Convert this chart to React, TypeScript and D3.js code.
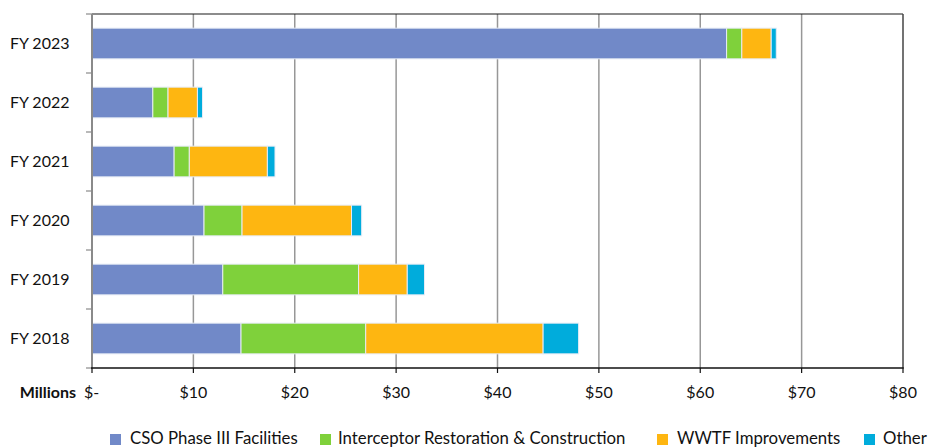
import * as d3 from 'd3'

const categories = ['FY 2023', 'FY 2022', 'FY 2021', 'FY 2020', 'FY 2019', 'FY 2018']
const seriesNames = ['CSO Phase III Facilities', 'Interceptor Restoration & Construction', 'WWTF Improvements', 'Other']
const cso = [62.6, 6.0, 8.1, 11.05, 12.9, 14.7]
const interceptor = [1.5, 1.5, 1.5, 3.75, 13.4, 12.3]
const wwtf = [2.9, 2.9, 7.7, 10.8, 4.8, 17.5]
const other = [0.5, 0.5, 0.75, 1.0, 1.7, 3.5]
const xTicks = [0, 10, 20, 30, 40, 50, 60, 70, 80]
const COLORS = ['#7189c8', '#7fd13b', '#feb611', '#00acdc']

const W = 930, H = 448
const M = { left: 92, right: 27, top: 14, bottom: 80 }
const FONT = 'Lato, "Open Sans", sans-serif'

export default function App() {
  const x = d3.scaleLinear([0, 80], [M.left, W - M.right])
  const y = d3.scaleBand(categories, [M.top, H - M.bottom]).paddingInner(0.48).paddingOuter(0.24)
  const outer = d3.scaleBand(categories, [M.top, H - M.bottom])

  const rows = categories.map((c, i) => ({ cat: c, cso: cso[i], interceptor: interceptor[i], wwtf: wwtf[i], other: other[i] }))
  const keys = ['cso', 'interceptor', 'wwtf', 'other'] as const
  const stacked = d3.stack<any>().keys(keys as any)(rows)

  const top = M.top, bottom = H - M.bottom, right = W - M.right
  // legend swatch / text x positions
  const legendItems = [
    { sx: 110, tx: 130 },
    { sx: 320, tx: 338 },
    { sx: 657, tx: 677 },
    { sx: 864, tx: 883 },
  ]

  return (
    <svg width={W} height={H} style={{ position: 'absolute', left: 0, top: 0, background: '#fff' }} fontFamily={FONT}>
      {/* gridlines */}
      {xTicks.slice(1, -1).map((t) => (
        <line key={t} x1={x(t)} x2={x(t)} y1={top} y2={bottom} stroke="#979797" strokeWidth={1.5} />
      ))}
      {/* bars */}
      {stacked.map((s, si) => (
        <g key={si} fill={COLORS[si]}>
          {s.map((d, i) => (
            <rect key={i} x={x(d[0])} y={y(categories[i])} width={x(d[1]) - x(d[0])} height={y.bandwidth()}
              stroke="#e6ebf5" strokeWidth={1} />
          ))}
        </g>
      ))}
      {/* frame */}
      <line x1={M.left} x2={right} y1={top} y2={top} stroke="#1a1a1a" strokeWidth={1.2} />
      <line x1={right} x2={right} y1={top} y2={bottom} stroke="#444" strokeWidth={1.5} />
      <line x1={M.left} x2={M.left} y1={top} y2={bottom} stroke="#8a8a8a" strokeWidth={2} />
      {categories.map((c) => (
        <line key={c} x1={M.left - 6} x2={M.left} y1={outer(c)!} y2={outer(c)!} stroke="#8a8a8a" strokeWidth={1.2} />
      ))}
      <line x1={M.left - 6} x2={M.left} y1={bottom} y2={bottom} stroke="#8a8a8a" strokeWidth={1.2} />
      <line x1={M.left - 1} x2={right + 0.75} y1={bottom} y2={bottom} stroke="#111" strokeWidth={1.5} />
      {xTicks.map((t) => (
        <line key={t} x1={x(t)} x2={x(t)} y1={bottom} y2={bottom + 5} stroke="#111" strokeWidth={1.2} />
      ))}
      {/* labels */}
      {categories.map((c) => (
        <text key={c} x={69.5} y={outer(c)! + outer.bandwidth() / 2 + 5.8} textAnchor="end" fontSize={16} fill="#111">{c}</text>
      ))}
      {xTicks.map((t) => (
        <text key={t} x={t === 0 ? x(t) - 8 : x(t)} y={398} textAnchor={t === 0 ? 'start' : 'middle'} fontSize={16} fill="#111">
          {t === 0 ? '$-' : `$${t}`}
        </text>
      ))}
      <text x={76} y={398} textAnchor="end" fontSize={16} fontWeight="bold" fill="#111">Millions</text>
      {/* legend */}
      {seriesNames.map((n, i) => (
        <g key={n}>
          <rect x={legendItems[i].sx} y={434} width={11} height={11} fill={COLORS[i]} />
          <text x={legendItems[i].tx} y={444} fontSize={16.8} fill="#111">{n}</text>
        </g>
      ))}
    </svg>
  )
}
